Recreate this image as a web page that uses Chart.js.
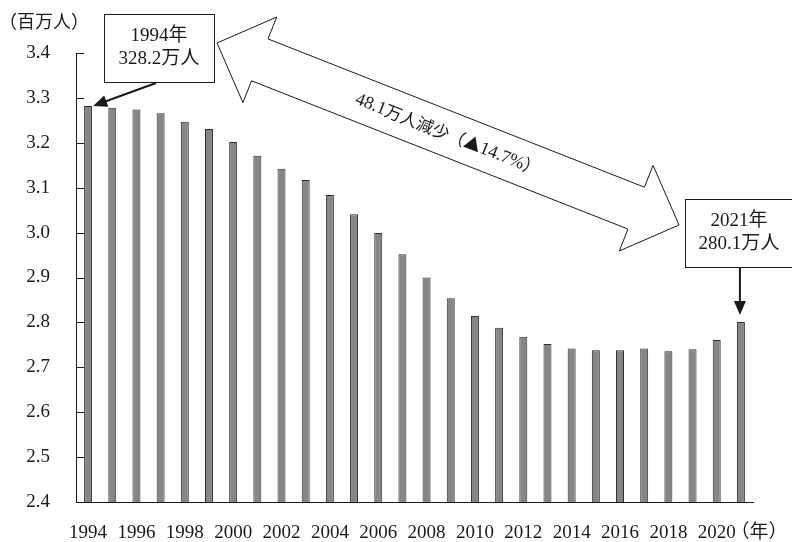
<!DOCTYPE html>
<html lang="ja">
<head>
<meta charset="utf-8">
<script src="https://cdn.jsdelivr.net/npm/chart.js@4.4.1/dist/chart.umd.min.js"></script>
<style>
  html, body { margin: 0; padding: 0; background: #fff; }
  #wrap { width: 792px; height: 542px; position: relative; }
</style>
</head>
<body>
<div id="wrap"><canvas id="popChart" width="792" height="542"></canvas></div>
<script>
// Population (millions)
const years = ["1994", "1995", "1996", "1997", "1998", "1999", "2000", "2001", "2002", "2003",
    "2004", "2005", "2006", "2007", "2008", "2009", "2010", "2011", "2012", "2013",
    "2014", "2015", "2016", "2017", "2018", "2019", "2020", "2021"];
const population = [3.282, 3.278, 3.274, 3.266, 3.247, 3.231, 3.202, 3.171, 3.142, 3.117,
    3.084, 3.041, 2.999, 2.952, 2.900, 2.854, 2.814, 2.788, 2.768, 2.752,
    2.742, 2.738, 2.738, 2.742, 2.736, 2.740, 2.761, 2.801];
const yTicks = [2.4, 2.5, 2.6, 2.7, 2.8, 2.9, 3.0, 3.1, 3.2, 3.3, 3.4];
const xTickYears = ["1994", "1996", "1998", "2000", "2002", "2004", "2006", "2008",
    "2010", "2012", "2014", "2016", "2018", "2020"];

const firstNote = ["1994年", "328.2万人"];
const lastNote = ["2021年", "280.1万人"];
// drop label split so digits get the serif face and the rest the CJK face
const dropNote = [["48.1", "serif"], ["万人減少（▲", "cjk"], ["14.7%", "serif"], ["）", "cjk"]];

const serif = '"Liberation Serif", "Noto Sans CJK JP", serif';
const cjk = '"Noto Sans CJK JP", sans-serif';
const ink = "#1a1a1a";

function arrowHead(ctx, x1, y1, x2, y2, len, half) {
    const a = Math.atan2(y2 - y1, x2 - x1);
    ctx.beginPath();
    ctx.moveTo(x2, y2);
    ctx.lineTo(x2 - len * Math.cos(a) + half * Math.sin(a), y2 - len * Math.sin(a) - half * Math.cos(a));
    ctx.lineTo(x2 - len * Math.cos(a) - half * Math.sin(a), y2 - len * Math.sin(a) + half * Math.cos(a));
    ctx.closePath();
    ctx.fill();
}

function pointerArrow(ctx, x1, y1, x2, y2) {
    const a = Math.atan2(y2 - y1, x2 - x1);
    ctx.beginPath();
    ctx.moveTo(x1, y1);
    ctx.lineTo(x2 - 10 * Math.cos(a), y2 - 10 * Math.sin(a));
    ctx.lineWidth = 2;
    ctx.stroke();
    arrowHead(ctx, x1, y1, x2, y2, 14, 6);
}

function noteBox(ctx, left, top, right, bottom, lines, cx) {
    ctx.fillStyle = "#fff";
    ctx.fillRect(left, top, right - left, bottom - top);
    ctx.lineWidth = 1;
    ctx.strokeRect(left + 0.5, top + 0.5, right - left, bottom - top);
    ctx.fillStyle = ink;
    ctx.font = "19px " + serif;
    ctx.textAlign = "center";
    ctx.textBaseline = "middle";
    const mid = (top + bottom) / 2;
    ctx.fillText(lines[0], cx, mid - 11.5);
    ctx.fillText(lines[1], cx, mid + 11.5);
}

function hollowDoubleArrow(ctx, lx, ly, rx, ry) {
    const dx = rx - lx, dy = ry - ly;
    const len = Math.hypot(dx, dy);
    const ux = dx / len, uy = dy / len;
    const nx = -uy, ny = ux;
    const hl = 46, hw = 46, sw = 22.5;
    const p = (bx, by, s, t) => [bx + ux * s + nx * t, by + uy * s + ny * t];
    const pts = [
        [lx, ly],
        p(lx, ly, hl, -hw), p(lx, ly, hl, -sw),
        p(rx, ry, -hl, -sw), p(rx, ry, -hl, -hw),
        [rx, ry],
        p(rx, ry, -hl, hw), p(rx, ry, -hl, sw),
        p(lx, ly, hl, sw), p(lx, ly, hl, hw)
    ];
    ctx.beginPath();
    pts.forEach((q, i) => i ? ctx.lineTo(q[0], q[1]) : ctx.moveTo(q[0], q[1]));
    ctx.closePath();
    ctx.fillStyle = "#fff";
    ctx.fill();
    ctx.lineWidth = 1;
    ctx.strokeStyle = ink;
    ctx.stroke();

    ctx.save();
    ctx.translate((lx + rx) / 2, (ly + ry) / 2);
    ctx.rotate(Math.atan2(dy, dx));
    ctx.fillStyle = ink;
    ctx.textAlign = "left";
    ctx.textBaseline = "middle";
    const fontOf = (kind) => kind === "cjk" ? "17px " + cjk : "18px " + serif;
    let total = 0;
    dropNote.forEach(([txt, kind]) => { ctx.font = fontOf(kind); total += ctx.measureText(txt).width; });
    let cx = -total / 2;
    dropNote.forEach(([txt, kind]) => {
        ctx.font = fontOf(kind);
        ctx.fillText(txt, cx, kind === "cjk" ? 0 : 1);
        cx += ctx.measureText(txt).width;
    });
    ctx.restore();
}

const decorations = {
    id: "decorations",
    afterDraw(chart) {
        const { ctx, chartArea, scales: { y } } = chart;
        const bars = chart.getDatasetMeta(0).data;
        ctx.save();
        ctx.strokeStyle = ink;
        ctx.fillStyle = ink;

        // inward tick marks on the value axis
        ctx.lineWidth = 1;
        ctx.beginPath();
        y.ticks.forEach(t => {
            const py = Math.round(y.getPixelForValue(t.value)) + 0.5;
            ctx.moveTo(chartArea.left, py);
            ctx.lineTo(chartArea.left + 8, py);
        });
        ctx.stroke();

        // unit labels
        ctx.font = "18px " + cjk;
        ctx.textAlign = "center";
        ctx.textBaseline = "middle";
        ctx.fillText("（百万人）", 44, 21);
        ctx.font = "19px " + cjk;
        ctx.fillText("（年）", 759, 531);

        // first year note
        const b0 = bars[0];
        noteBox(ctx, 104, 14, 214, 82, firstNote, 159);
        ctx.strokeStyle = ink;
        ctx.fillStyle = ink;
        pointerArrow(ctx, 156, 83, b0.x + b0.width / 2 + 1, b0.y);

        // last year note
        const bN = bars[bars.length - 1];
        noteBox(ctx, 685, 199, 795, 267, lastNote, 739);
        ctx.strokeStyle = ink;
        ctx.fillStyle = ink;
        pointerArrow(ctx, bN.x - 1, 268, bN.x - 1, bN.y - 7);

        // big hollow two-way arrow
        hollowDoubleArrow(ctx, 217, 43, 679, 225);
        ctx.restore();
    }
};

new Chart(document.getElementById("popChart"), {
    type: "bar",
    data: {
        labels: years,
        datasets: [{
            data: population,
            backgroundColor: "#86868a",
            borderColor: "#2e2e2e",
            borderWidth: 1,
            barPercentage: 0.33,
            categoryPercentage: 1.0
        }]
    },
    options: {
        responsive: false,
        animation: false,
        devicePixelRatio: 1,
        layout: { padding: { top: 53, right: 39, bottom: 0, left: 0 } },
        plugins: { legend: { display: false }, tooltip: { enabled: false } },
        scales: {
            x: {
                afterFit: (s) => { s.height = 40; },
                grid: { display: true, drawOnChartArea: false, drawTicks: false },
                border: { display: true, color: ink, width: 1 },
                ticks: {
                    autoSkip: false,
                    maxRotation: 0,
                    padding: 20,
                    color: ink,
                    font: { family: serif, size: 19 },
                    callback: function (v) {
                        const lab = this.getLabelForValue(v);
                        return xTickYears.includes(lab) ? lab : "";
                    }
                }
            },
            y: {
                min: 2.4,
                max: 3.4,
                afterFit: (s) => { s.width = 76; },
                afterBuildTicks: (s) => { s.ticks = yTicks.map(v => ({ value: v })); },
                grid: { display: true, drawOnChartArea: false, drawTicks: false },
                border: { display: true, color: ink, width: 1 },
                ticks: {
                    padding: 26,
                    color: ink,
                    font: { family: serif, size: 19 },
                    callback: (v) => Number(v).toFixed(1)
                }
            }
        }
    },
    plugins: [decorations]
});
</script>
</body>
</html>
